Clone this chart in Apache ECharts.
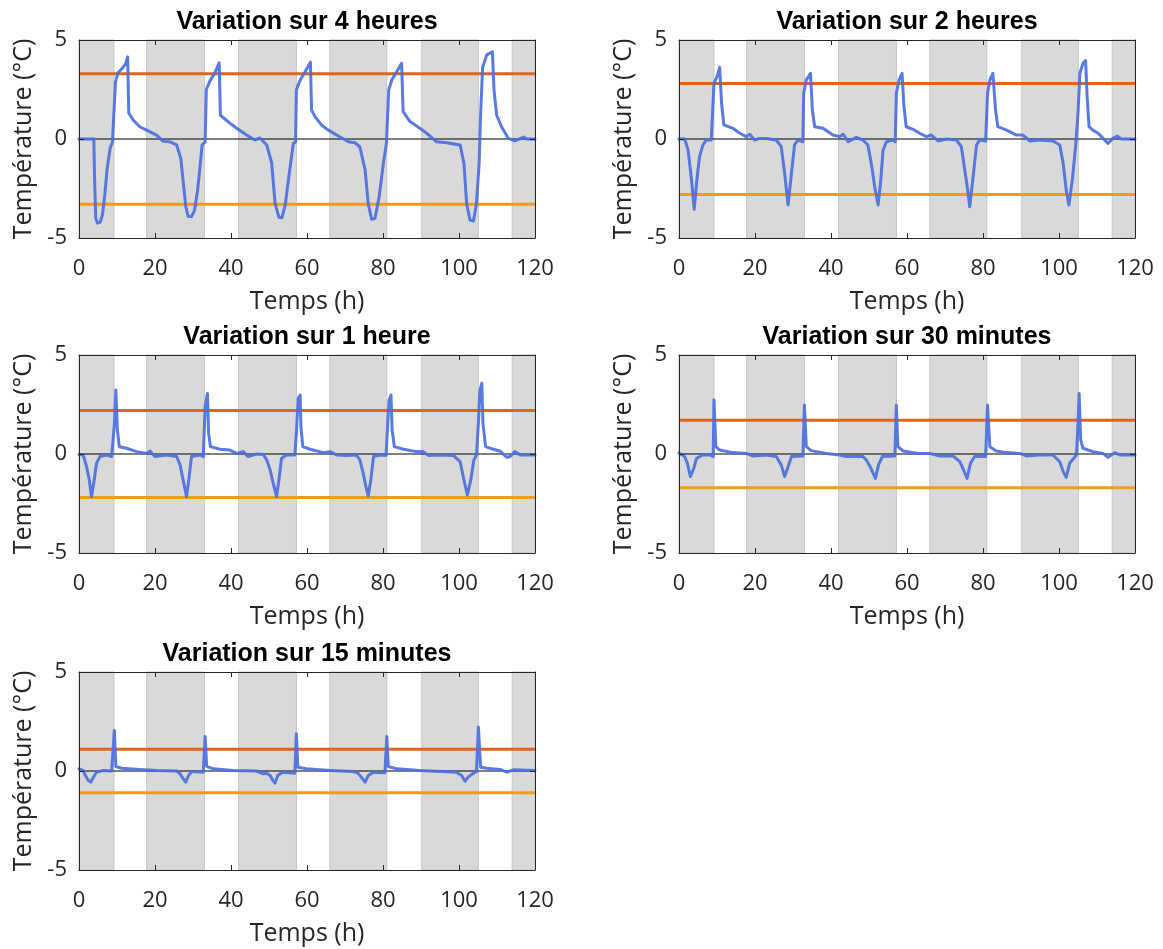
<!DOCTYPE html>
<html><head><meta charset="utf-8">
<script src="https://cdn.jsdelivr.net/npm/echarts@6/dist/echarts.min.js"></script>
<style>html,body{margin:0;padding:0;background:#fff}#c{width:1163px;height:949px}</style>
</head><body><div id="c"></div><script>
// ---------- data ----------
const titles = ['Variation sur 4 heures','Variation sur 2 heures','Variation sur 1 heure','Variation sur 30 minutes','Variation sur 15 minutes'];
const xTicks = [0,20,40,60,80,100,120];
const yTicks = [-5,0,5];
const thresholds = [3.3, 2.8, 2.2, 1.7, 1.1];
const nightBands = [[0,9.2],[17.8,33],[42,57.2],[66,81],[90.2,105.1],[114,120]];

const var4h = [[0,0],[3.9,0],[4.1,-2.0],[4.4,-4.0],[4.9,-4.25],[5.6,-4.2],[6.2,-3.8],[6.8,-2.8],[7.4,-1.5],[8.2,-0.45],[8.8,-0.15],[9.3,-0.12],
[9.6,2.9],[10.3,3.35],[11.5,3.6],[12.3,3.8],[12.8,4.15],[13.1,1.3],[14.3,0.95],[16,0.62],[17.8,0.45],[20.4,0.2],[22.2,-0.12],[23.9,-0.14],
[25.7,-0.3],[26.8,-1.0],[27.5,-2.3],[28.1,-3.4],[28.7,-3.9],[29.6,-3.92],[30.4,-3.6],[31.2,-2.6],[31.8,-1.5],[32.4,-0.3],[33.2,-0.15],
[33.5,2.5],[34.5,2.95],[35.8,3.35],[36.9,3.85],[37.2,1.2],[39.7,0.8],[41.5,0.54],[44.1,0.2],[46.3,-0.05],[47.6,0.05],[49.4,-0.3],[50.7,-1.2],
[51.6,-3.25],[52.6,-3.95],[53.4,-3.98],[54.3,-3.3],[55.1,-2.07],[56.4,-0.22],[57.0,-0.15],[57.2,2.47],[58.2,2.98],[59.5,3.4],[60.9,3.88],
[61.2,1.46],[62.1,1.13],[63.8,0.71],[65.6,0.45],[68.7,0.1],[70.9,-0.14],[72.6,-0.19],[73.9,-0.39],[75.3,-1.57],[76.1,-3.25],[77,-4.05],
[77.9,-4.0],[79,-2.9],[80.1,-1.23],[80.9,-0.22],[81.3,-0.15],[81.5,2.47],[82.3,2.98],[83.6,3.4],[84.9,3.82],[85.3,1.38],[87.1,0.88],
[89.7,0.54],[91.5,0.29],[94.1,-0.14],[96.8,-0.19],[100.3,-0.3],[101.3,-1.23],[102,-3.25],[102.9,-4.1],[103.8,-4.15],[104.6,-3.25],
[105.3,-1.23],[105.7,1.3],[106.2,3.6],[107.3,4.25],[108.8,4.4],[109.2,2.5],[109.9,1.21],[111.2,0.62],[113,0.03],[114.7,-0.1],[117,0.1],
[117.8,0],[120,0]];

const var2h = [[0,0],[1.5,0],[2.4,-0.56],[3.3,-2.07],[4.0,-3.55],[4.7,-2.07],[5.4,-0.89],[6.3,-0.3],[7.2,-0.05],[8.5,-0.05],[9.0,-0.14],
[9.2,2.81],[10.0,3.15],[10.7,3.62],[11.2,1.8],[11.8,0.71],[14.2,0.54],[16,0.29],[17.7,0.12],[18.6,0.24],[19.9,-0.05],[21.2,0.03],[23,0.03],
[25.6,-0.05],[26.9,-0.39],[27.8,-1.73],[28.7,-3.33],[29.6,-1.73],[30.4,-0.3],[31.3,-0.05],[32.6,-0.14],[32.8,2.31],[33.5,2.98],[34.6,3.32],
[35.1,1.46],[35.7,0.62],[37.9,0.54],[40.5,0.2],[42.3,0.12],[43.2,0.24],[44.5,-0.14],[46.7,0.08],[48.4,-0.05],[49.7,-0.3],[50.6,-1.23],
[51.5,-2.41],[52.4,-3.33],[53.1,-2.07],[53.7,-0.56],[54.6,-0.14],[56.3,-0.05],[56.9,-0.14],[57.2,2.31],[57.9,2.98],[58.7,3.32],[59.2,1.63],
[59.8,0.62],[61.6,0.49],[63.3,0.29],[65.1,0.12],[66.4,0.2],[68.2,-0.1],[70.4,0],[73,-0.05],[74.3,-0.39],[75.2,-1.57],[76.1,-2.75],
[76.5,-3.42],[77.4,-1.9],[78.3,-0.3],[79.1,-0.05],[80.7,-0.1],[80.9,-0.14],[81.2,2.31],[81.8,2.98],[82.6,3.32],[83.3,1.46],[83.9,0.62],
[86.2,0.45],[88.8,0.2],[90.5,0.2],[92.3,-0.1],[94.9,-0.05],[98.4,-0.1],[100.2,-0.3],[101.1,-1.23],[101.9,-2.58],[102.6,-3.33],[103.5,-2.07],
[104.4,-0.3],[105,1.3],[105.5,3.32],[106.3,3.82],[107,3.96],[107.4,2.15],[107.9,0.62],[108.9,0.45],[110.3,0.29],[111.6,0.03],[112.9,-0.22],
[114.2,0.03],[115.3,0.15],[116.4,0],[120,0]];

const var1h = [[0,-0.02],[1.1,-0.05],[2.0,-0.64],[2.7,-1.31],[3.3,-2.16],[4.0,-1.31],[4.6,-0.47],[5.5,-0.13],[7.3,-0.05],[8.6,-0.13],[9.1,-0.05],
[9.3,1.5],[9.7,3.23],[10.1,1.21],[10.6,0.37],[12.5,0.29],[15.2,0.12],[17.8,0.03],[18.7,0.15],[20,-0.13],[23.1,-0.05],[25.7,-0.13],[26.6,-0.55],
[27.4,-1.31],[28.3,-2.16],[29,-1.14],[29.6,-0.13],[31.8,-0.05],[32.7,-0.13],[33.2,2.39],[33.8,3.06],[34.1,1.04],[34.6,0.37],[37.1,0.24],
[39.7,0.2],[41.5,0.03],[43.2,0.12],[44.5,-0.13],[46.7,0],[48.5,-0.02],[49.4,-0.3],[50.3,-0.81],[51.1,-1.47],[52.0,-2.16],[52.6,-1.31],
[53.3,-0.22],[54.6,-0.05],[56.8,-0.05],[57.2,1.04],[57.7,2.81],[58.2,2.98],[58.4,1.38],[58.9,0.37],[60.8,0.24],[64.3,0.07],[66.1,0.12],
[67.8,-0.05],[70.4,-0.07],[73,-0.05],[73.9,-0.3],[74.8,-0.98],[75.5,-1.65],[76.1,-2.12],[76.8,-1.31],[77.5,-0.13],[79.2,-0.05],[80.8,-0.07],
[81.1,1.04],[81.6,2.73],[82.1,2.98],[82.4,1.21],[83,0.37],[85.4,0.24],[88.8,0.12],[90.6,0.12],[91.9,-0.07],[95,-0.05],[98.5,-0.07],
[100.3,-0.39],[101.3,-1.31],[102.2,-2.07],[103.1,-1.31],[103.9,-0.3],[104.6,-0.05],[105.1,1.55],[105.5,3.23],[106,3.57],[106.3,1.55],
[107,0.37],[109,0.24],[110.8,0.15],[112.6,-0.17],[113.4,-0.13],[114.7,0.12],[116.1,-0.05],[120,-0.05]];

const var30m = [[0,0.05],[1.5,-0.13],[2.2,-0.47],[3.0,-1.14],[3.3,-1.23],[3.9,-0.72],[4.6,-0.22],[6.3,-0.05],[8.1,-0.05],[9.0,-0.13],[9.2,2.73],
[9.7,0.37],[10.7,0.2],[14.2,0.07],[17.7,0.03],[19.5,-0.1],[23,-0.05],[25.6,-0.13],[26.9,-0.55],[27.8,-1.14],[28.7,-0.64],[29.6,-0.13],
[32.6,-0.1],[33.0,2.47],[33.5,0.37],[34.8,0.17],[38.8,0.03],[42.3,-0.05],[44.1,-0.13],[48.4,-0.13],[49.3,-0.3],[50.2,-0.6],[51.1,-0.98],
[51.7,-1.23],[52.5,-0.55],[53.5,-0.13],[56.8,-0.1],[57.2,2.47],[57.6,0.37],[59,0.15],[62.9,0.03],[66,0.03],[68.6,-0.1],[72.1,-0.1],
[73.9,-0.39],[74.9,-0.81],[75.8,-1.23],[76.7,-0.47],[77.8,-0.13],[80.7,-0.13],[81.2,2.47],[81.8,0.37],[83.5,0.15],[86.2,0.07],[89.7,0.03],
[91.4,-0.1],[94.9,-0.05],[98.4,-0.05],[100.2,-0.39],[101.1,-0.89],[101.9,-1.18],[102.8,-0.47],[104.6,-0.05],[105.0,1.55],[105.3,3.06],
[105.7,0.71],[106.3,0.29],[108.9,0.12],[111.6,0.03],[112.9,-0.17],[114.7,0.07],[116,-0.05],[120,-0.05]];

const var15m = [[0,0.11],[1.1,0.03],[1.7,-0.23],[2.4,-0.47],[3.1,-0.56],[3.8,-0.31],[4.6,-0.06],[6.4,0.03],[8.6,0],[9.0,-0.06],[9.3,2.05],
[9.7,0.23],[11.2,0.14],[16,0.08],[20.4,0.03],[25.7,0],[26.6,-0.14],[27.4,-0.39],[28.1,-0.56],[28.8,-0.23],[29.6,-0.03],[32.7,-0.06],
[33.2,1.74],[33.6,0.23],[35.3,0.11],[40.6,0.03],[46.7,0],[48.5,-0.14],[49.4,-0.11],[50.3,-0.23],[51.0,-0.47],[51.6,-0.61],[52.3,-0.23],
[53.5,-0.06],[56.8,-0.11],[57.2,1.88],[57.6,0.19],[59.8,0.11],[66.1,0.03],[72.2,-0.03],[73.4,-0.11],[74.3,-0.31],[75.3,-0.56],[76.1,-0.23],
[77.5,-0.06],[80.5,-0.09],[81.0,1.74],[81.4,0.23],[83.6,0.11],[89.7,0.03],[95.4,-0.03],[99.3,-0.06],[100.7,-0.23],[101.6,-0.52],
[102.4,-0.31],[103.8,-0.11],[104.6,-0.03],[105.1,2.22],[105.7,0.19],[107.3,0.14],[110.8,0.08],[112.6,-0.06],[114.3,0.06],[120,0.03]];

const seriesData = [var4h, var2h, var1h, var30m, var15m];

// ---------- layout / style ----------
const panels = [
  {left:79, top:40}, {left:679, top:40},
  {left:79, top:355}, {left:679, top:355},
  {left:79, top:672}
];
const PW = 456, PH = 198;
const TXT = '#262626';
const FONT = 'Open Sans';
const BLUE = '#4a6fe0', UP = '#df6420', LOW = '#f29a1a';

const option = {animation:false, backgroundColor:'#fff', title:[], grid:[], xAxis:[], yAxis:[], series:[]};

panels.forEach((p, i) => {
  option.grid.push({left:p.left, top:p.top, width:PW, height:PH, containLabel:false});
  option.title.push({
    text: titles[i], left: p.left + PW/2, top: p.top - 18, textAlign:'center', textVerticalAlign:'middle', padding:0,
    textStyle:{fontFamily:'Liberation Sans', fontWeight:'bold', fontSize:25, color:'#000'}
  });
  const xmin = xTicks[0], xmax = xTicks[xTicks.length-1], xint = xTicks[1]-xTicks[0];
  const ymin = yTicks[0], ymax = yTicks[yTicks.length-1], yint = yTicks[1]-yTicks[0];
  const axLine = {show:true, onZero:false, lineStyle:{color:TXT, width:1}};
  const tick = {show:true, inside:true, length:5, lineStyle:{color:TXT, width:1}};
  option.xAxis.push({
    gridIndex:i, type:'value', position:'bottom', min:xmin, max:xmax, interval:xint, z:10,
    axisLine:axLine, axisTick:tick, splitLine:{show:false},
    axisLabel:{margin:20, fontSize:22, color:TXT, fontFamily:FONT},
    name:'Temps (h)', nameLocation:'middle', nameGap:51,
    nameTextStyle:{fontSize:25, color:TXT, fontFamily:FONT}
  });
  option.xAxis.push({
    gridIndex:i, type:'value', position:'top', min:xmin, max:xmax, interval:xint, z:10,
    axisLine:axLine, axisTick:tick, splitLine:{show:false}, axisLabel:{show:false}
  });
  option.yAxis.push({
    gridIndex:i, type:'value', position:'left', min:ymin, max:ymax, interval:yint, z:10,
    axisLine:axLine, axisTick:tick, splitLine:{show:false},
    axisLabel:{margin:12, fontSize:22, color:TXT, fontFamily:FONT},
    name:'Température (°C)', nameLocation:'middle', nameGap:43, nameRotate:90,
    nameTextStyle:{fontSize:25, color:TXT, fontFamily:FONT}
  });
  option.yAxis.push({
    gridIndex:i, type:'value', position:'right', min:ymin, max:ymax, interval:yint, z:10,
    axisLine:axLine, axisTick:tick, splitLine:{show:false}, axisLabel:{show:false}
  });
  const xi = 2*i, yi = 2*i;
  option.series.push({
    type:'line', xAxisIndex:xi, yAxisIndex:yi, data:[[xmin,0]], showSymbol:false, symbol:'none',
    lineStyle:{opacity:0}, z:1, silent:true,
    markArea:{silent:true, itemStyle:{color:'#d9d9d9', borderColor:'#c6c6c6', borderWidth:1},
      data: nightBands.map(b => [{xAxis:b[0]}, {xAxis:b[1]}])}
  });
  option.series.push({type:'line', xAxisIndex:xi, yAxisIndex:yi, data:[[xmin,0],[xmax,0]], symbol:'none',
    lineStyle:{color:'#000', width:1.2}, z:3, silent:true});
  option.series.push({type:'line', xAxisIndex:xi, yAxisIndex:yi, data:[[xmin,thresholds[i]],[xmax,thresholds[i]]], symbol:'none',
    lineStyle:{color:UP, width:3}, z:4, silent:true});
  option.series.push({type:'line', xAxisIndex:xi, yAxisIndex:yi, data:[[xmin,-thresholds[i]],[xmax,-thresholds[i]]], symbol:'none',
    lineStyle:{color:LOW, width:3}, z:4, silent:true});
  option.series.push({type:'line', xAxisIndex:xi, yAxisIndex:yi, data:seriesData[i], symbol:'none',
    lineStyle:{color:BLUE, width:3, opacity:0.92, join:'round', cap:'round'}, z:5, silent:true});
});

const chart = echarts.init(document.getElementById('c'), null, {renderer:'canvas'});
chart.setOption(option);
</script></body></html>
